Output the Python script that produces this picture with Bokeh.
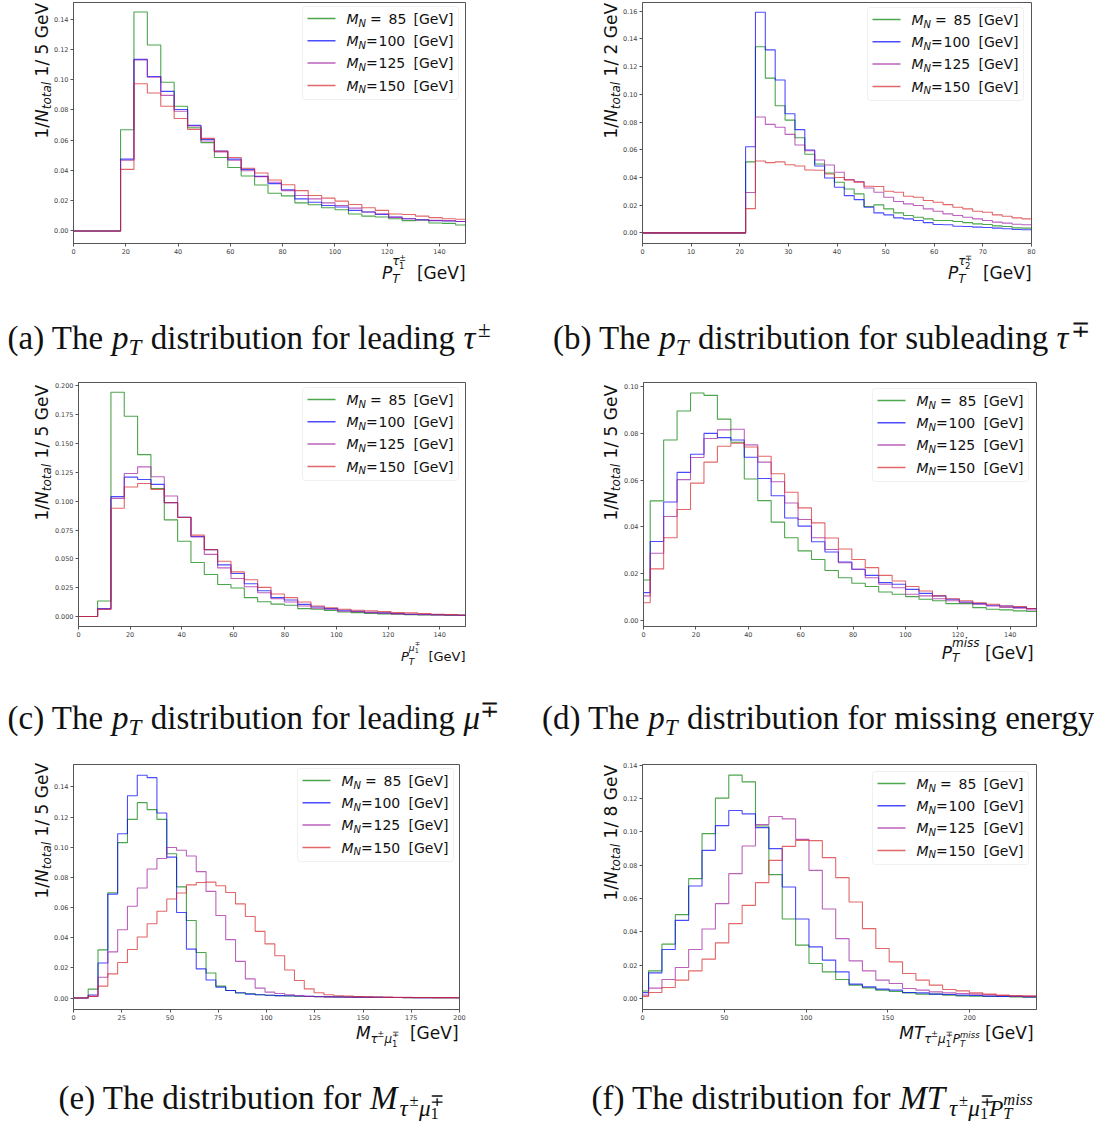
import numpy as np
from bokeh.plotting import figure
from bokeh.models import (Range1d, FixedTicker, NumeralTickFormatter, Label,
                          BoxAnnotation, PolyAnnotation)
from bokeh.layouts import row, column
from bokeh.embed import file_html
from bokeh.resources import INLINE

# ---------------- data ----------------
masses = ["85", "100", "125", "150"]
line_colors = ["#008000", "#0000ff", "#a020a0", "#d62728"]

# (a) pT of leading tau
a_first_edge, a_bin_width = 18.0, 5.13
a_m85 = [0.0669, 0.1448, 0.1230, 0.0984, 0.0825, 0.0683, 0.0584, 0.0486, 0.0420, 0.0363,
         0.0304, 0.0249, 0.0232, 0.0186, 0.0173, 0.0153, 0.0140, 0.0112, 0.0098, 0.0092,
         0.0081, 0.0068, 0.0072, 0.0053, 0.0050, 0.0039]
a_m100 = [0.0475, 0.1135, 0.1022, 0.0923, 0.0803, 0.0698, 0.0606, 0.0529, 0.0475, 0.0407,
          0.0361, 0.0313, 0.0273, 0.0212, 0.0190, 0.0168, 0.0158, 0.0136, 0.0125, 0.0109,
          0.0092, 0.0081, 0.0074, 0.0068, 0.0066, 0.0063]
a_m125 = [0.0468, 0.1131, 0.1017, 0.0897, 0.0792, 0.0694, 0.0595, 0.0523, 0.0468, 0.0398,
          0.0359, 0.0322, 0.0267, 0.0234, 0.0212, 0.0186, 0.0168, 0.0151, 0.0125, 0.0114,
          0.0090, 0.0081, 0.0072, 0.0070, 0.0068, 0.0063]
a_m150 = [0.0407, 0.0974, 0.0912, 0.0825, 0.0744, 0.0672, 0.0612, 0.0527, 0.0486, 0.0415,
          0.0383, 0.0337, 0.0306, 0.0267, 0.0234, 0.0217, 0.0197, 0.0175, 0.0153, 0.0136,
          0.0112, 0.0109, 0.0098, 0.0088, 0.0081, 0.0077]
a_xticks = [0, 20, 40, 60, 80, 100, 120, 140]
a_yticks = [0.00, 0.02, 0.04, 0.06, 0.08, 0.10, 0.12, 0.14]

# (b) pT of subleading tau
b_first_edge, b_bin_width = 21.2, 2.03
b_m85 = [0.0512, 0.1343, 0.1117, 0.0918, 0.0814, 0.0687, 0.0567, 0.0497, 0.0432, 0.0365,
         0.0317, 0.0281, 0.0190, 0.0202, 0.0173, 0.0144, 0.0125, 0.0113, 0.0101, 0.0089,
         0.0089, 0.0082, 0.0074, 0.0065, 0.0060, 0.0050, 0.0046, 0.0036, 0.0034, 0.0033]
b_m100 = [0.0622, 0.1593, 0.1321, 0.1103, 0.0860, 0.0745, 0.0598, 0.0483, 0.0396, 0.0329,
          0.0269, 0.0240, 0.0185, 0.0144, 0.0130, 0.0108, 0.0101, 0.0089, 0.0074, 0.0060,
          0.0058, 0.0048, 0.0046, 0.0041, 0.0038, 0.0034, 0.0029, 0.0024, 0.0022, 0.0021]
b_m125 = [0.0291, 0.0836, 0.0783, 0.0762, 0.0711, 0.0634, 0.0593, 0.0526, 0.0490, 0.0437,
          0.0384, 0.0370, 0.0324, 0.0293, 0.0257, 0.0226, 0.0209, 0.0197, 0.0173, 0.0156,
          0.0137, 0.0125, 0.0113, 0.0101, 0.0089, 0.0077, 0.0070, 0.0062, 0.0058, 0.0056]
b_m150 = [0.0175, 0.0519, 0.0507, 0.0512, 0.0492, 0.0483, 0.0454, 0.0452, 0.0425, 0.0400,
          0.0382, 0.0365, 0.0336, 0.0334, 0.0300, 0.0293, 0.0264, 0.0257, 0.0233, 0.0221,
          0.0204, 0.0185, 0.0173, 0.0156, 0.0149, 0.0130, 0.0120, 0.0108, 0.0101, 0.0099]
b_xticks = [0, 10, 20, 30, 40, 50, 60, 70, 80]
b_yticks = [0.00, 0.02, 0.04, 0.06, 0.08, 0.10, 0.12, 0.14, 0.16]

# (c) pT of leading muon
c_first_edge, c_bin_width = 7.4, 5.17
c_m85 = [0.0135, 0.1943, 0.1736, 0.1403, 0.1110, 0.0838, 0.0652, 0.0468, 0.0364, 0.0278,
         0.0247, 0.0164, 0.0129, 0.0108, 0.0098, 0.0069, 0.0063, 0.0052, 0.0040, 0.0034,
         0.0026, 0.0023, 0.0020, 0.0017, 0.0014, 0.0014, 0.0011, 0.0011]
c_m100 = [0.0069, 0.1039, 0.1208, 0.1188, 0.1145, 0.0987, 0.0861, 0.0694, 0.0580, 0.0448,
          0.0373, 0.0284, 0.0224, 0.0164, 0.0143, 0.0106, 0.0083, 0.0069, 0.0055, 0.0046,
          0.0037, 0.0032, 0.0026, 0.0020, 0.0020, 0.0017, 0.0014, 0.0011]
c_m125 = [0.0063, 0.1024, 0.1240, 0.1297, 0.1211, 0.1044, 0.0861, 0.0689, 0.0539, 0.0422,
          0.0330, 0.0258, 0.0207, 0.0155, 0.0126, 0.0092, 0.0072, 0.0063, 0.0046, 0.0043,
          0.0034, 0.0029, 0.0023, 0.0020, 0.0017, 0.0014, 0.0014, 0.0011]
c_m150 = [0.0063, 0.0938, 0.1122, 0.1153, 0.1102, 0.0987, 0.0858, 0.0706, 0.0580, 0.0479,
          0.0387, 0.0319, 0.0253, 0.0195, 0.0164, 0.0126, 0.0092, 0.0077, 0.0063, 0.0055,
          0.0049, 0.0043, 0.0034, 0.0032, 0.0026, 0.0020, 0.0017, 0.0014]
c_xticks = [0, 20, 40, 60, 80, 100, 120, 140]
c_yticks = [0.000, 0.025, 0.050, 0.075, 0.100, 0.125, 0.150, 0.175, 0.200]

# (d) missing pT
d_first_edge, d_bin_width = -2.57, 5.13
d_m85 = [0.0172, 0.0511, 0.0772, 0.0896, 0.0973, 0.0963, 0.0861, 0.0762, 0.0605, 0.0512,
         0.0420, 0.0353, 0.0297, 0.0260, 0.0213, 0.0182, 0.0158, 0.0144, 0.0121, 0.0111,
         0.0101, 0.0090, 0.0083, 0.0071, 0.0071, 0.0054, 0.0047, 0.0044, 0.0040, 0.0037]
d_m100 = [0.0118, 0.0337, 0.0506, 0.0633, 0.0711, 0.0800, 0.0782, 0.0772, 0.0698, 0.0607,
          0.0533, 0.0438, 0.0403, 0.0336, 0.0292, 0.0249, 0.0218, 0.0192, 0.0161, 0.0154,
          0.0132, 0.0115, 0.0104, 0.0090, 0.0078, 0.0071, 0.0064, 0.0061, 0.0055, 0.0050]
d_m125 = [0.0104, 0.0287, 0.0444, 0.0602, 0.0697, 0.0778, 0.0815, 0.0818, 0.0751, 0.0677,
          0.0593, 0.0502, 0.0431, 0.0353, 0.0303, 0.0246, 0.0218, 0.0182, 0.0154, 0.0139,
          0.0111, 0.0104, 0.0092, 0.0083, 0.0075, 0.0068, 0.0061, 0.0055, 0.0051, 0.0044]
d_m150 = [0.0075, 0.0220, 0.0353, 0.0474, 0.0587, 0.0677, 0.0745, 0.0758, 0.0742, 0.0702,
          0.0627, 0.0548, 0.0481, 0.0417, 0.0352, 0.0305, 0.0260, 0.0225, 0.0192, 0.0168,
          0.0144, 0.0125, 0.0104, 0.0092, 0.0083, 0.0075, 0.0068, 0.0061, 0.0058, 0.0050]
d_xticks = [0, 20, 40, 60, 80, 100, 120, 140]
d_yticks = [0.00, 0.02, 0.04, 0.06, 0.08, 0.10]

# (e) invariant mass tau-mu
e_first_edge, e_bin_width = 7.6, 5.09
e_m85 = [0.0059, 0.0319, 0.0698, 0.1030, 0.1184, 0.1295, 0.1249, 0.1184, 0.0956, 0.0737,
         0.0514, 0.0302, 0.0166, 0.0079, 0.0050, 0.0033, 0.0028, 0.0022, 0.0018, 0.0015,
         0.0013, 0.0012, 0.0010, 0.0009, 0.0008, 0.0007, 0.0006, 0.0006, 0.0005, 0.0005,
         0.0004, 0.0004, 0.0003, 0.0003, 0.0003, 0.0002, 0.0002, 0.0002]
e_m100 = [0.0020, 0.0232, 0.0689, 0.1089, 0.1341, 0.1477, 0.1461, 0.1227, 0.0934, 0.0567,
          0.0324, 0.0193, 0.0120, 0.0072, 0.0050, 0.0035, 0.0026, 0.0022, 0.0018, 0.0016,
          0.0015, 0.0013, 0.0012, 0.0010, 0.0009, 0.0008, 0.0007, 0.0006, 0.0006, 0.0005,
          0.0005, 0.0004, 0.0004, 0.0003, 0.0003, 0.0003, 0.0002, 0.0002]
e_m125 = [0.0011, 0.0138, 0.0306, 0.0453, 0.0608, 0.0729, 0.0855, 0.0925, 0.0998, 0.0980,
          0.0941, 0.0838, 0.0707, 0.0547, 0.0387, 0.0243, 0.0127, 0.0066, 0.0039, 0.0030,
          0.0022, 0.0015, 0.0011, 0.0009, 0.0008, 0.0007, 0.0006, 0.0006, 0.0005, 0.0005,
          0.0004, 0.0004, 0.0003, 0.0003, 0.0003, 0.0002, 0.0002, 0.0002]
e_m150 = [0.0011, 0.0079, 0.0160, 0.0236, 0.0322, 0.0405, 0.0492, 0.0575, 0.0656, 0.0696,
          0.0750, 0.0766, 0.0768, 0.0744, 0.0700, 0.0624, 0.0540, 0.0442, 0.0359, 0.0280,
          0.0186, 0.0116, 0.0061, 0.0035, 0.0022, 0.0015, 0.0013, 0.0010, 0.0008, 0.0007,
          0.0006, 0.0005, 0.0005, 0.0004, 0.0004, 0.0003, 0.0003, 0.0003]
e_xticks = [0, 25, 50, 75, 100, 125, 150, 175, 200]
e_yticks = [0.00, 0.02, 0.04, 0.06, 0.08, 0.10, 0.12, 0.14]

# (f) transverse mass tau-mu-MET
f_first_edge, f_bin_width = -4.47, 8.17
f_m85 = [0.0045, 0.0166, 0.0326, 0.0503, 0.0719, 0.0989, 0.1202, 0.1340, 0.1300, 0.1035,
         0.0743, 0.0477, 0.0320, 0.0210, 0.0160, 0.0114, 0.0080, 0.0064, 0.0050, 0.0042,
         0.0034, 0.0026, 0.0026, 0.0020, 0.0016, 0.0014, 0.0012, 0.0012, 0.0010, 0.0008, 0.0007]
f_m100 = [0.0035, 0.0154, 0.0294, 0.0469, 0.0675, 0.0889, 0.1037, 0.1128, 0.1108, 0.1025,
          0.0899, 0.0669, 0.0477, 0.0310, 0.0230, 0.0160, 0.0086, 0.0070, 0.0056, 0.0050,
          0.0036, 0.0034, 0.0026, 0.0024, 0.0020, 0.0018, 0.0014, 0.0012, 0.0012, 0.0010, 0.0009]
f_m125 = [0.0020, 0.0062, 0.0114, 0.0186, 0.0294, 0.0417, 0.0569, 0.0749, 0.0915, 0.1043,
          0.1092, 0.1078, 0.0955, 0.0769, 0.0537, 0.0359, 0.0226, 0.0166, 0.0110, 0.0090,
          0.0060, 0.0050, 0.0040, 0.0034, 0.0030, 0.0026, 0.0022, 0.0018, 0.0016, 0.0014, 0.0012]
f_m150 = [0.0012, 0.0036, 0.0066, 0.0110, 0.0166, 0.0236, 0.0334, 0.0449, 0.0559, 0.0695,
          0.0829, 0.0913, 0.0949, 0.0947, 0.0845, 0.0725, 0.0579, 0.0419, 0.0300, 0.0220,
          0.0150, 0.0110, 0.0080, 0.0054, 0.0046, 0.0034, 0.0026, 0.0020, 0.0016, 0.0014, 0.0012]
f_xticks = [0, 50, 100, 150, 200]
f_yticks = [0.00, 0.02, 0.04, 0.06, 0.08, 0.10, 0.12, 0.14]

# ---------------- text metrics (approximate advance widths, em) ----------------
SANS_W = {' ': 0.318, '/': 0.337, '[': 0.390, ']': 0.390, '=': 0.838, 'G': 0.775,
          'e': 0.615, 'V': 0.684, 'M': 0.863, 'N': 0.748, 'P': 0.603, 'T': 0.611,
          't': 0.392, 'o': 0.612, 'a': 0.613, 'l': 0.278, 'm': 0.974, 'i': 0.278,
          's': 0.521, '±': 0.838, '∓': 0.838, 'τ': 0.557, 'μ': 0.636}
for _d in "0123456789":
    SANS_W[_d] = 0.636
SERIF_W = {' ': 0.25, '(': 0.333, ')': 0.333, 'a': 0.444, 'b': 0.5, 'c': 0.444, 'd': 0.5,
           'e': 0.444, 'f': 0.333, 'g': 0.5, 'h': 0.5, 'i': 0.278, 'l': 0.278, 'm': 0.778,
           'n': 0.5, 'o': 0.5, 'p': 0.5, 'r': 0.333, 's': 0.389, 't': 0.278, 'u': 0.5,
           'v': 0.5, 'y': 0.5, 'T': 0.611, 'M': 0.889, 'P': 0.611, 'τ': 0.44, 'μ': 0.5,
           '±': 0.564, '∓': 0.564, 'k': 0.5, 'w': 0.722, 'x': 0.5, '1': 0.5}
# offset between the middle of the font box and the baseline (em)
MID_UP = {"DejaVu Sans": 0.346, "Liberation Serif": 0.338}

AXC = "#555555"
TXT = "#111111"
PAGE_W, PAGE_H = 1094, 1129
CAP = 33  # caption font size (px)

# transparent overlay figure covering the page: holds all text outside the plot frames
ov = figure(width=PAGE_W, height=PAGE_H, x_range=Range1d(0, PAGE_W), y_range=Range1d(PAGE_H, 0),
            x_axis_type=None, y_axis_type=None, output_backend="svg", toolbar_location=None,
            min_border=0, background_fill_alpha=0, border_fill_alpha=0,
            outline_line_color=None, styles={"position": "absolute", "top": "0px", "left": "0px"})
ov.grid.visible = False


def T(text, size, italic=False, dy=0.0):
    return ("t", text, size, italic, dy)


def SS(sub, sup):
    return ("ss", sub, sup)


def rich(items, px, py, font, table, angle=0.0, align="left", color=TXT):
    """Place a sequence of text pieces on the overlay; px, py = page coords of the baseline start."""
    pieces = []
    sp = table[' ']

    def walk(its, x):
        for it in its:
            if it[0] == "t":
                _, text, size, italic, dy = it
                lead = len(text) - len(text.lstrip(' '))
                trail = len(text) - len(text.rstrip(' '))
                core = text.strip(' ')
                x += lead * sp * size
                pieces.append((x, dy, core, size, italic))
                x += sum(table.get(ch, 0.6) for ch in core) * size + trail * sp * size
            else:
                x = max(walk(it[1], x), walk(it[2], x))
        return x

    total = walk(items, 0.0)
    off = {"left": 0.0, "right": -total, "center": -total / 2}[align]
    up = MID_UP[font]
    for (x, dy, text, size, italic) in pieces:
        if angle == 0.0:
            cx, cy = px + off + x, py + dy - up * size
        else:
            cx, cy = px + dy - up * size, py - (off + x)
        ov.add_layout(Label(x=cx, y=cy, text=text, text_font=font, text_font_size=f"{size}px",
                            text_font_style="italic" if italic else "normal",
                            text_color=color, text_baseline="middle",
                            text_align="left", angle=angle))


def legend(p, frame, bx, by):
    L, Tp, R, B = frame
    p.add_layout(BoxAnnotation(left=bx - L, right=bx + 156 - L, top=B - by, bottom=B - (by + 93),
                               left_units="screen", right_units="screen",
                               top_units="screen", bottom_units="screen",
                               fill_color="white", fill_alpha=0.85,
                               line_color="#cccccc", line_width=1, border_radius=3))
    up = MID_UP["DejaVu Sans"]
    for i, (m, col) in enumerate(zip(masses, line_colors)):
        yc = by + 12 + 22.3 * i
        p.add_layout(PolyAnnotation(xs=[bx + 5 - L, bx + 33 - L], ys=[B - yc, B - yc],
                                    xs_units="screen", ys_units="screen",
                                    line_color=col, line_alpha=0.7, line_width=1.5,
                                    fill_alpha=0))
        tx, ty = bx + 44, yc + 5
        eq_dx, num_dx = (23.5, 42) if len(m) == 2 else (19.5, 32)
        for dx, dy, txt, size, it in [(0, 0, "M", 14, True), (12, 3, "N", 10, True),
                                      (eq_dx, 0, "=", 14, False), (num_dx, 0, m, 14, False),
                                      (67, 0, "[GeV]", 14, False)]:
            p.add_layout(Label(x=tx + dx - L, y=B - (ty + dy - up * size),
                               x_units="screen", y_units="screen",
                               text=txt, text_font="DejaVu Sans", text_font_size=f"{size}px",
                               text_font_style="italic" if it else "normal",
                               text_color=TXT, text_baseline="middle"))


def panel(ox, oy, W, H, frame, xr, yr, xticks, yticks, yfmt, first_edge, bin_w, series):
    L, Tp, R, B = frame
    p = figure(width=W, height=H, x_range=Range1d(*xr), y_range=Range1d(*yr),
               output_backend="svg", toolbar_location=None,
               min_border_left=L - ox, min_border_right=ox + W - R,
               min_border_top=Tp - oy, min_border_bottom=oy + H - B,
               background_fill_color="white", border_fill_color="white")
    p.xgrid.visible = False
    p.ygrid.visible = False
    p.outline_line_color = AXC
    p.outline_line_width = 1
    for ax in (p.xaxis[0], p.yaxis[0]):
        ax.axis_line_color = AXC
        ax.major_tick_line_color = AXC
        ax.major_tick_out = 3
        ax.major_tick_in = 0
        ax.minor_tick_out = 0
        ax.minor_tick_in = 0
        ax.major_label_text_font = "DejaVu Sans"
        ax.major_label_text_font_size = "6.5px"
        ax.major_label_text_color = "#444444"
        ax.major_label_standoff = 2
    p.xaxis.ticker = FixedTicker(ticks=xticks)
    p.yaxis.ticker = FixedTicker(ticks=yticks)
    p.xaxis.formatter = NumeralTickFormatter(format="0")
    p.yaxis.formatter = NumeralTickFormatter(format=yfmt)
    n = len(series[0])
    edges = first_edge + bin_w * np.arange(n + 1)
    x0 = min(xr[0], edges[0])
    xs = np.concatenate([[x0], edges])
    for vals, col in zip(series, line_colors):
        v = np.asarray(vals, dtype=float)
        ys = np.concatenate([[0.0], v, [v[-1]]])
        p.step(xs, ys, mode="after", line_color=col, line_alpha=0.7, line_width=1.1)
    return p


def ylabel_items(gev):
    return [T("1/", 17), T("N", 17, True), SS([T("total", 12, True, 4)], []),
            T(f" 1/ {gev} GeV", 17)]


def ptlabel_items(base_sub, s=1.0):
    big, mid, small = 17 * s, 12 * s, 8.5 * s
    return [T("P", big, True),
            SS([T("T", mid, True, 5 * s)],
               [T(base_sub[0], mid, True, -13 * s),
                SS([T(base_sub[1], small, False, -10 * s)],
                   [T(base_sub[2], small, False, -18 * s)])]),
            T("  [GeV]", big)]


def caption_pt(letter, rest, sym=None, sup=None):
    it = [T(f"({letter}) The ", CAP), T("p", CAP, True), SS([T("T", 0.7 * CAP, True, 5)], []),
          T(rest, CAP)]
    if sym:
        it += [T(sym, CAP, True), SS([], [T(sup, 0.7 * CAP, False, -13)])]
    return it


SUB_TAUMU = [T("τ", 0.7 * CAP, True, 6), T("±", 0.5 * CAP, False, -3), T("μ", 0.7 * CAP, True, 6),
             SS([T("1", 0.5 * CAP, False, 10)], [T("∓", 0.5 * CAP, False, -3)])]

# ---------------- panels ----------------
fa = (73, 2, 465, 245)
pa = panel(0, 0, 547, 380, fa, (0, 150), (-0.0083, 0.1511), a_xticks, a_yticks, "0.00",
           a_first_edge, a_bin_width, [a_m85, a_m100, a_m125, a_m150])
legend(pa, fa, 302, 8)
rich(ylabel_items("5"), 47, 138, "DejaVu Sans", SANS_W, angle=np.pi / 2)
rich(ptlabel_items(("τ", "1", "±")), 465, 278, "DejaVu Sans", SANS_W, align="right")
rich(caption_pt("a", " distribution for leading ", "τ", "±"), 7, 349,
     "Liberation Serif", SERIF_W)

fb = (642, 2, 1031, 243)
pb = panel(547, 0, 547, 380, fb, (0, 80), (-0.0077, 0.1663), b_xticks, b_yticks, "0.00",
           b_first_edge, b_bin_width, [b_m85, b_m100, b_m125, b_m150])
legend(pb, fb, 867, 7)
rich(ylabel_items("2"), 616, 138, "DejaVu Sans", SANS_W, angle=np.pi / 2)
rich(ptlabel_items(("τ", "2", "∓")), 1031, 278, "DejaVu Sans", SANS_W, align="right")
rich(caption_pt("b", " distribution for subleading ", "τ", "∓"), 818, 349,
     "Liberation Serif", SERIF_W, align="center")

fc = (78, 382, 465, 627)
pc = panel(0, 380, 547, 380, fc, (0, 150), (-0.0086, 0.2028), c_xticks, c_yticks, "0.000",
           c_first_edge, c_bin_width, [c_m85, c_m100, c_m125, c_m150])
legend(pc, fc, 302, 388)
rich(ylabel_items("5"), 47, 520, "DejaVu Sans", SANS_W, angle=np.pi / 2)
rich(ptlabel_items(("μ", "1", "∓"), 13 / 17), 465, 660, "DejaVu Sans", SANS_W, align="right")
rich(caption_pt("c", " distribution for leading ", "μ", "∓"), 7, 729,
     "Liberation Serif", SERIF_W)

fd = (643, 381, 1036, 626)
pd_ = panel(547, 380, 547, 380, fd, (0, 150), (-0.0027, 0.1018), d_xticks, d_yticks, "0.00",
            d_first_edge, d_bin_width, [d_m85, d_m100, d_m125, d_m150])
legend(pd_, fd, 872, 388)
rich(ylabel_items("5"), 616, 520, "DejaVu Sans", SANS_W, angle=np.pi / 2)
rich([T("P", 17, True), SS([T("T", 12, True, 4)], [T("miss", 12, True, -11)]),
      T(" [GeV]", 17)], 1033, 658, "DejaVu Sans", SANS_W, align="right")
rich(caption_pt("d", " distribution for missing energy"), 818, 729,
     "Liberation Serif", SERIF_W, align="center")

fe = (73, 762, 459, 1009)
pe = panel(0, 760, 547, 369, fe, (0, 200), (-0.0076, 0.1548), e_xticks, e_yticks, "0.00",
           e_first_edge, e_bin_width, [e_m85, e_m100, e_m125, e_m150])
legend(pe, fe, 297, 768)
rich(ylabel_items("5"), 47, 898, "DejaVu Sans", SANS_W, angle=np.pi / 2)
rich([T("M", 17, True), T("τ", 12, True, 5), T("±", 8.5, False, -2),
      T("μ", 12, True, 5), SS([T("1", 8.5, False, 8)], [T("∓", 8.5, False, -2)]),
      T("  [GeV]", 17)], 458, 1038, "DejaVu Sans", SANS_W, align="right")
rich([T("(e) The distribution for ", CAP), T("M", CAP, True)] + SUB_TAUMU,
     58, 1109, "Liberation Serif", SERIF_W)

ff = (642, 764, 1036, 1009)
pf = panel(547, 760, 547, 369, ff, (0, 240.8), (-0.0066, 0.1404), f_xticks, f_yticks, "0.00",
           f_first_edge, f_bin_width, [f_m85, f_m100, f_m125, f_m150])
legend(pf, ff, 872, 771)
rich(ylabel_items("8"), 616, 900, "DejaVu Sans", SANS_W, angle=np.pi / 2)
rich([T("MT", 17, True), T("τ", 12, True, 5), T("±", 8.5, False, -2),
      T("μ", 12, True, 5), SS([T("1", 8.5, False, 8)], [T("∓", 8.5, False, -2)]),
      T("P", 12, True, 5), SS([T("T", 8.5, True, 8)], [T("miss", 8.5, True, -1)]),
      T(" [GeV]", 17)], 1033, 1038, "DejaVu Sans", SANS_W, align="right")
rich([T("(f) The distribution for ", CAP), T("MT", CAP, True)] + SUB_TAUMU +
     [T("P", 0.7 * CAP, True, 6), SS([T("T", 0.5 * CAP, True, 10)], [T("miss", 0.5 * CAP, True, -4)])],
     812, 1109, "Liberation Serif", SERIF_W, align="center")

grid = column(row(pa, pb), row(pc, pd_), row(pe, pf),
              styles={"position": "absolute", "top": "0px", "left": "0px"})

open("out.html", "w").write(file_html([grid, ov], INLINE))
